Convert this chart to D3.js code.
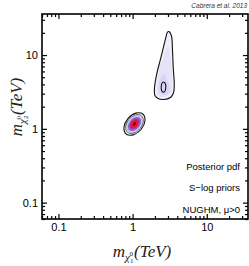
<!DOCTYPE html>
<html>
<head>
<meta charset="utf-8">
<script src="https://cdn.jsdelivr.net/npm/d3@7"></script>
<style>
  body { margin: 0; background: #fff; }
  svg { display: block; }
</style>
</head>
<body>
<div id="chart"></div>
<script>
const width = 249;
const height = 266;

// Axis ticks (TeV)
const majorTicks = [0.1, 1, 10];
const minorTicks = [0.06, 0.07, 0.08, 0.09, 0.2, 0.3, 0.4, 0.5, 0.6, 0.7, 0.8, 0.9,
                    2, 3, 4, 5, 6, 7, 8, 9, 20, 30];

// High-mass mode: outer contour [m_chi1, m_chi2] in TeV
const highOuter = [[3.094, 20.84], [3.344, 18.11], [3.449, 11.70], [3.536, 6.673],
                   [3.648, 3.926], [3.558, 3.058], [3.241, 2.658], [2.649, 2.497],
                   [2.199, 2.576], [2.003, 2.829], [1.972, 3.575], [2.099, 5.362],
                   [2.340, 8.300], [2.608, 12.85], [2.818, 17.55], [2.953, 20.51]];
const highMid = [[3.000, 13.68], [3.293, 8.56], [3.396, 4.588], [3.293, 3.058],
                 [2.649, 2.700], [2.199, 2.786], [2.099, 3.575], [2.268, 5.89], [2.649, 10.0]];
const highCore = [[2.649, 5.53], [3.000, 4.311], [3.094, 3.156], [2.568, 2.873],
                  [2.268, 3.156], [2.268, 4.311]];
const highInner = [[2.608, 4.311], [2.775, 4.050], [2.802, 3.632], [2.733, 3.254],
                   [2.592, 3.126], [2.459, 3.306], [2.436, 3.747], [2.489, 4.140]];

// Low-mass mode: contours and filled levels
const lowOuter = [[1.374, 1.587], [1.469, 1.284], [1.297, 0.980], [1.018, 0.828],
                  [0.818, 0.852], [0.765, 1.053], [0.866, 1.379], [1.104, 1.634]];
const lowInner = [[1.318, 1.510], [1.394, 1.264], [1.256, 1.008], [1.024, 0.874],
                  [0.852, 0.896], [0.806, 1.070], [0.894, 1.342], [1.097, 1.547]];
const lowFill1 = [[1.298, 1.482], [1.367, 1.256], [1.241, 1.018], [1.027, 0.892],
                  [0.866, 0.912], [0.822, 1.076], [0.905, 1.328], [1.094, 1.516]];
const lowFill2 = [[1.245, 1.410], [1.298, 1.236], [1.201, 1.046], [1.033, 0.942],
                  [0.902, 0.959], [0.866, 1.093], [0.935, 1.292], [1.087, 1.436]];
const lowFill3 = [[1.207, 1.358], [1.248, 1.222], [1.173, 1.068], [1.038, 0.981],
                  [0.931, 0.995], [0.900, 1.106], [0.958, 1.266], [1.082, 1.379]];
const lowFill4 = [[1.176, 1.317], [1.208, 1.210], [1.149, 1.086], [1.043, 1.015],
                  [0.955, 1.027], [0.930, 1.118], [0.978, 1.245], [1.077, 1.332]];
const lowFill5 = [[1.102, 1.218], [1.113, 1.180], [1.093, 1.133], [1.053, 1.105],
                  [1.019, 1.110], [1.009, 1.146], [1.028, 1.193], [1.067, 1.224]];

const notes = ["Posterior pdf", "S\u2212log priors", "NUGHM, \u03bc>0"];

const margin = {top: 14, right: 1, bottom: 47, left: 42};

const svg = d3.select("#chart")
    .append("svg")
    .attr("width", width)
    .attr("height", height);

const x = d3.scaleLog()
    .domain([0.06, 36])
    .range([margin.left, width - margin.right]);

const y = d3.scaleLog()
    .domain([0.06, 36])
    .range([height - margin.bottom, margin.top]);

const shape = d3.line()
    .x(d => x(d[0]))
    .y(d => y(d[1]))
    .curve(d3.curveCatmullRomClosed.alpha(0.5));

// Filled levels
const fills = [
    {pts: highOuter, color: "#f1effb"},
    {pts: highMid, color: "#e6e2f8"},
    {pts: highCore, color: "#dbd5f5"},
    {pts: lowFill1, color: "#cbc3f3"},
    {pts: lowFill2, color: "#7d6cf0"},
    {pts: lowFill3, color: "#b43aa6"},
    {pts: lowFill4, color: "#e8142c"},
    {pts: lowFill5, color: "#6a0010"}
];

svg.selectAll(".level")
    .data(fills)
    .enter()
    .append("path")
    .attr("class", "level")
    .attr("d", d => shape(d.pts))
    .attr("fill", d => d.color)
    .attr("stroke", "none");

// Contour lines
const lines = [
    {pts: highOuter, w: 1.1, c: "#111"},
    {pts: highInner, w: 1.1, c: "#111"},
    {pts: lowOuter, w: 1.1, c: "#111"},
    {pts: lowInner, w: 0.9, c: "#444"}
];

svg.selectAll(".contour")
    .data(lines)
    .enter()
    .append("path")
    .attr("class", "contour")
    .attr("d", d => shape(d.pts))
    .attr("fill", "none")
    .attr("stroke", d => d.c)
    .attr("stroke-width", d => d.w);

// Axes, ticks inward on all four sides
const allTicks = majorTicks.concat(minorTicks).sort((a, b) => a - b);
const fmt = d => majorTicks.includes(d) ? String(d) : "";

function styleAxis(g, sign, horizontal) {
    g.select(".domain").remove();
    g.selectAll(".tick line")
        .attr("stroke", "#000")
        .attr("stroke-width", 1.2)
        .attr(horizontal ? "y2" : "x2", d => sign * (majorTicks.includes(d) ? 5 : 3));
    g.selectAll(".tick text")
        .style("font-family", "'Liberation Sans', Arial, sans-serif")
        .style("font-size", "11px")
        .attr("fill", "#000");
}

svg.append("g")
    .attr("transform", `translate(0,${height - margin.bottom})`)
    .call(d3.axisBottom(x).tickValues(allTicks).tickFormat(fmt).tickSize(-5).tickPadding(4))
    .call(g => styleAxis(g, -1, true));

svg.append("g")
    .attr("transform", `translate(0,${margin.top})`)
    .call(d3.axisTop(x).tickValues(allTicks).tickFormat("").tickSize(-5))
    .call(g => styleAxis(g, 1, true));

svg.append("g")
    .attr("transform", `translate(${margin.left},0)`)
    .call(d3.axisLeft(y).tickValues(allTicks).tickFormat(fmt).tickSize(-5).tickPadding(4))
    .call(g => styleAxis(g, 1, false));

svg.append("g")
    .attr("transform", `translate(${width - margin.right},0)`)
    .call(d3.axisRight(y).tickValues(allTicks).tickFormat("").tickSize(-5))
    .call(g => styleAxis(g, -1, false));

// Frame
svg.append("rect")
    .attr("x", margin.left)
    .attr("y", margin.top)
    .attr("width", width - margin.left - margin.right)
    .attr("height", height - margin.top - margin.bottom)
    .attr("fill", "none")
    .attr("stroke", "#000")
    .attr("stroke-width", 1.6);

// Annotations
svg.selectAll(".note")
    .data(notes)
    .enter()
    .append("text")
    .attr("class", "note")
    .attr("x", 240)
    .attr("y", (d, i) => 169.5 + i * 21.5)
    .attr("text-anchor", "end")
    .style("font-family", "'Liberation Sans', Arial, sans-serif")
    .style("font-size", "9.5px")
    .text(d => d);

// Credit
svg.append("text")
    .attr("x", 247)
    .attr("y", 8)
    .attr("text-anchor", "end")
    .style("font-family", "'Liberation Sans', Arial, sans-serif")
    .style("font-style", "italic")
    .style("font-size", "6.5px")
    .attr("fill", "#333")
    .text("Cabrera et al. 2013");

// Axis titles
function massLabel(sel, idx) {
    sel.style("font-family", "'Liberation Serif', 'Times New Roman', serif")
        .style("font-style", "italic")
        .style("font-size", "17px")
        .attr("fill", "#222");
    sel.append("tspan").text("m");
    sel.append("tspan").attr("font-size", "11px").attr("dy", 4).text("\u03c7");
    sel.append("tspan").attr("font-size", "7px").attr("font-style", "normal").attr("dy", 2).text(idx);
    sel.append("tspan").attr("font-size", "7px").attr("font-style", "normal").attr("dx", -3.8).attr("dy", -7).text("0");
    sel.append("tspan").attr("dy", 1).attr("dx", 1).text("(TeV)");
}

svg.append("text")
    .attr("x", 142)
    .attr("y", 257)
    .attr("text-anchor", "middle")
    .call(massLabel, "1");

svg.append("text")
    .attr("transform", "translate(22,107) rotate(-90)")
    .attr("text-anchor", "middle")
    .call(massLabel, "2");
</script>
</body>
</html>
